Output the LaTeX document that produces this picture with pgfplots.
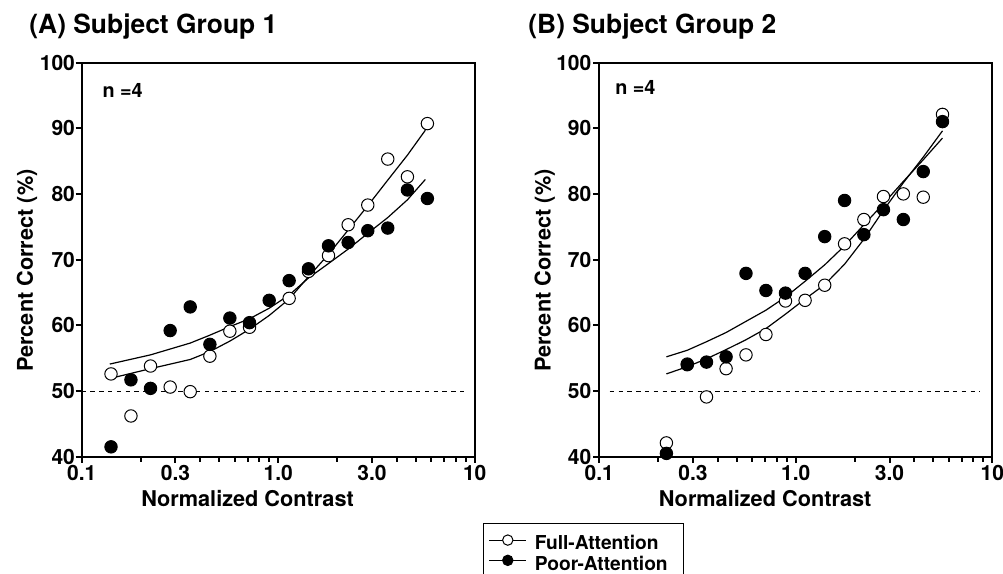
\documentclass[border=0pt]{standalone}
\usepackage{fontspec}
\setmainfont{TeX Gyre Heros}
\usepackage{pgfplots}
\pgfplotsset{compat=1.18}

\newcommand{\fs}[1]{\fontsize{#1}{1.2\dimexpr#1\relax}\selectfont\bfseries}

\pgfplotsset{
  panel/.style={
    scale only axis, width=196.5bp, height=197.1bp,
    xmin=0.1, xmax=10, ymin=40, ymax=100,
    xtick={0.1,0.3,1,3,10}, xticklabels={0.1,0.3,1.0,3.0,10},
    minor xtick={0.2,0.4,0.5,0.6,0.7,0.8,0.9,2,4,5,6,7,8,9},
    ytick={40,50,60,70,80,90,100}, yticklabels={40,50,60,70,80,90,100},
    xtick pos=left, ytick pos=left, tick align=outside,
    major tick length=3bp, minor tick length=2.5bp,
    axis line style={line width=1bp},
    every tick/.style={black, line width=1bp},
    tick label style={font=\fs{10.5bp}},
    xticklabel style={inner ysep=0.9bp},
    yticklabel style={inner xsep=0.2bp},
    label style={font=\fs{10.85bp}},
    xlabel style={at={(axis description cs:0.422,-0.1276)}, anchor=base},
    ylabel style={at={(axis description cs:-0.124,0.472)}, anchor=base},
    clip=false,
  },
  openm/.style={only marks, mark=*, mark size=3.1bp,
    mark options={draw=black, fill=white, line width=0.5bp}},
  fillm/.style={only marks, mark=*, mark size=3.1bp,
    mark options={draw=black, fill=black, line width=0.5bp}},
  fitl/.style={black, line width=0.6bp, no marks},
  chance/.style={black, line width=0.5bp, dash pattern=on 2.2bp off 2.2bp, no marks},
}

\begin{document}
\begin{tikzpicture}
\path[use as bounding box] (0,0) rectangle (501.5bp,287bp);

% ---------------- Panel A ----------------
\begin{semilogxaxis}[panel, at={(40.85bp,58.65bp)}, anchor=south west,
  xlabel={Normalized Contrast}, ylabel={Percent Correct (\%)}]
\addplot[chance] coordinates {(0.1,50) (8.8,50)};
\addplot[openm] coordinates {
(0.1410,52.6) (0.1781,46.2) (0.2240,53.8) (0.2820,50.6) (0.3567,49.9)
(0.4491,55.3) (0.5676,59.1) (0.7146,59.7) (1.137,64.1) (1.426,68.2)
(1.803,70.6) (2.270,75.3) (2.857,78.3) (3.611,85.3) (4.546,82.6) (5.744,90.7)};
\addplot[fillm] coordinates {
(0.1410,41.5) (0.1781,51.7) (0.2240,50.4) (0.2820,59.2) (0.3567,62.8)
(0.4491,57.1) (0.5676,61.1) (0.7146,60.4) (0.8998,63.8) (1.137,66.8)
(1.426,68.6) (1.803,72.1) (2.270,72.6) (2.857,74.4) (3.611,74.8)
(4.546,80.6) (5.744,79.3)};
\addplot[fitl] coordinates {
(0.139,51.9) (0.224,53.4) (0.357,54.8) (0.449,56.0) (0.568,57.6) (0.715,59.4)
(0.900,61.5) (1.137,64.0) (1.426,67.4) (1.803,70.8) (2.270,74.5) (2.857,78.2)
(3.611,82.1) (4.546,85.9) (5.61,89.7)};
\addplot[fitl] coordinates {
(0.139,54.1) (0.224,55.5) (0.357,57.3) (0.449,58.5) (0.568,59.8) (0.715,61.0)
(0.900,62.6) (1.137,64.6) (1.426,67.2) (1.803,69.4) (2.270,71.6) (2.857,74.0)
(3.611,76.4) (4.546,79.1) (5.61,82.2)};
\node[anchor=base west, font=\fs{9.9bp}, inner sep=0pt] at (rel axis cs:0.052,0.9103) {n =4};
\end{semilogxaxis}
\node[anchor=base west, font=\fs{13.2bp}, inner sep=0pt] at (14.5bp,270.3bp) {(A) Subject Group 1};

% ---------------- Panel B ----------------
\begin{semilogxaxis}[panel, at={(299.65bp,58.65bp)}, anchor=south west,
  yticklabel style={inner xsep=0.8bp},
  xlabel={Normalized Contrast}, ylabel={Percent Correct (\%)},
  legend style={at={(-0.2952,-0.1674)}, anchor=north west,
    draw=black, line width=0.5bp, fill=white,
    inner xsep=2.5bp, inner ysep=5.6bp,
    font=\fs{9.6bp},
    nodes={inner sep=0pt, text height=7bp, text depth=2.35bp},
    row sep=0pt, column sep=4bp},
  legend cell align=left]
\addplot[chance, forget plot] coordinates {(0.113,50) (8.7,50)};
\addplot[openm, forget plot] coordinates {
(0.2195,42.1) (0.2804,54.1) (0.3512,49.1) (0.4418,53.4) (0.5578,55.5)
(0.7047,58.6) (0.886,63.7) (1.115,63.8) (1.403,66.1) (1.771,72.4)
(2.220,76.1) (2.793,79.6) (3.526,80.0) (4.453,79.5) (5.579,92.1)};
\addplot[fillm, forget plot] coordinates {
(0.2195,40.5) (0.2804,54.0) (0.3512,54.4) (0.4418,55.2) (0.5578,67.9)
(0.7047,65.3) (0.886,64.9) (1.115,67.9) (1.403,73.5) (1.771,79.0)
(2.220,73.8) (2.793,77.6) (3.526,76.1) (4.453,83.4) (5.579,91.0)};
\addplot[fitl, forget plot] coordinates {
(0.2195,52.6) (0.2804,53.7) (0.3512,54.9) (0.4418,56.3) (0.5578,57.8)
(0.7047,59.5) (0.886,61.7) (1.115,64.0) (1.403,66.2) (1.771,69.3)
(2.220,73.1) (2.793,77.5) (3.526,81.7) (4.453,85.6) (5.579,89.6)};
\addplot[fitl, forget plot] coordinates {
(0.2195,55.2) (0.2804,56.2) (0.3512,57.5) (0.4418,58.9) (0.5578,60.6)
(0.7047,62.3) (0.886,64.3) (1.115,66.7) (1.403,69.2) (1.771,72.1)
(2.220,75.3) (2.793,78.5) (3.526,81.9) (4.453,85.2) (5.579,88.5)};
\node[anchor=base west, font=\fs{9.9bp}, inner sep=0pt] at (rel axis cs:0.0398,0.9176) {n =4};
\addlegendimage{legend image code/.code={
  \draw[black, line width=0.5bp] (0bp,2.6bp) -- (18.5bp,2.6bp);
  \draw[black, fill=white, line width=0.5bp] (9.25bp,2.6bp) circle (2.6bp);}}
\addlegendentry{Full-Attention\hspace*{5.5bp}}
\addlegendimage{legend image code/.code={
  \draw[black, line width=0.5bp] (0bp,2.6bp) -- (18.5bp,2.6bp);
  \draw[black, fill=black, line width=0.5bp] (9.25bp,2.6bp) circle (2.6bp);}}
\addlegendentry{Poor-Attention\hspace*{5.5bp}}
\end{semilogxaxis}
\node[anchor=base west, font=\fs{13.2bp}, inner sep=0pt] at (264bp,270.3bp) {(B) Subject Group 2};
\end{tikzpicture}
\end{document}
